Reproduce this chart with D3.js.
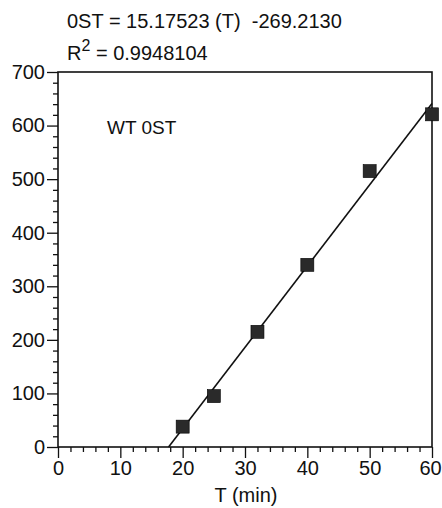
<!DOCTYPE html>
<html>
<head>
<meta charset="utf-8">
<script src="https://cdn.jsdelivr.net/npm/d3@7"></script>
<style>
  html, body { margin: 0; padding: 0; background: #fff; }
  svg { display: block; font-family: "Liberation Sans", Arial, Helvetica, sans-serif; }
</style>
</head>
<body>
<svg id="chart" width="442" height="508"></svg>
<script>
// ---- data ----
const timeMin = [20, 25, 32, 40, 50, 60];
const ostValues = [38, 95, 215, 340, 515, 621];
const fitSlope = 15.17523;
const fitIntercept = -269.2130;
const fitTimeRange = [269.2130 / 15.17523, 60];
const xTicks = [0, 10, 20, 30, 40, 50, 60];
const yTicks = [0, 100, 200, 300, 400, 500, 600, 700];
const equationText = "0ST = 15.17523 (T)\u00a0\u00a0-269.2130";
const r2Text = "= 0.9948104";
const seriesLabel = "WT 0ST";
const xTitle = "T (min)";

(function () {
// ---- layout ----
const svg = d3.select("#chart");
const pLeft = 58, pRight = 432, pTop = 72, pBottom = 447;
const x = d3.scaleLinear().domain([0, 60]).range([pLeft, pRight]);
const y = d3.scaleLinear().domain([0, 700]).range([pBottom, pTop]);
const ink = "#111";
const fs = "20px";

// frame
svg.append("rect").attr("x", pLeft).attr("y", pTop)
  .attr("width", pRight - pLeft).attr("height", pBottom - pTop)
  .attr("fill", "none").attr("stroke", ink).attr("stroke-width", 1.6);

// ticks
const yMinor = d3.range(0, 701, 20).filter(v => v % 100 !== 0);
const xMinor = d3.range(0, 61, 2).filter(v => v % 10 !== 0);
const yAxisMinor = d3.axisLeft(y).tickValues(yMinor).tickSize(5).tickFormat("");
const xAxisMinor = d3.axisBottom(x).tickValues(xMinor).tickSize(5).tickFormat("");
const yAxis = d3.axisLeft(y).tickValues(yTicks).tickSize(11).tickPadding(2).tickFormat(d3.format("d"));
const xAxis = d3.axisBottom(x).tickValues(xTicks).tickSize(11).tickPadding(3).tickFormat(d3.format("d"));

function style(g) {
  g.select(".domain").remove();
  g.selectAll("line").attr("stroke", ink).attr("stroke-width", 1.3);
  g.selectAll("text").attr("fill", ink).style("font-size", fs)
    .style("font-family", "Liberation Sans, Arial, sans-serif");
}
svg.append("g").attr("transform", `translate(${pLeft},0)`).call(yAxisMinor).call(style);
svg.append("g").attr("transform", `translate(0,${pBottom})`).call(xAxisMinor).call(style);
svg.append("g").attr("transform", `translate(${pLeft},0)`).call(yAxis).call(style);
const gx = svg.append("g").attr("transform", `translate(0,${pBottom})`).call(xAxis).call(style);
gx.selectAll(".tick text").filter(d => d === 60).attr("dx", "-2");

// x title
svg.append("text").attr("x", 246).attr("y", 502)
  .attr("text-anchor", "middle").attr("fill", ink).style("font-size", fs).text(xTitle);

// fit line
svg.append("path")
  .datum(fitTimeRange.map(t => [t, fitSlope * t + fitIntercept]))
  .attr("d", d3.line().x(d => x(d[0])).y(d => y(d[1])))
  .attr("stroke", ink).attr("stroke-width", 1.6).attr("fill", "none");

// squares
const sz = 13;
svg.append("g").selectAll("rect").data(timeMin.map((t, i) => [t, ostValues[i]]))
  .join("rect")
  .attr("x", d => x(d[0]) - sz / 2).attr("y", d => y(d[1]) - sz / 2)
  .attr("width", sz).attr("height", sz)
  .attr("fill", "#2a2a2a").attr("stroke", "#000").attr("stroke-width", 0.6);

// annotations
svg.append("text").attr("x", 67).attr("y", 28).attr("fill", ink)
  .style("font-size", fs).text(equationText);
const r2 = svg.append("text").attr("x", 67).attr("y", 60).attr("fill", ink).style("font-size", fs);
r2.append("tspan").text("R");
r2.append("tspan").attr("dy", -9).style("font-size", "16px").text("2");
r2.append("tspan").attr("dy", 9).text(" " + r2Text);

svg.append("text").attr("x", 107).attr("y", 134).attr("fill", ink)
  .style("font-size", "19px").text(seriesLabel);
})();
</script>
</body>
</html>
